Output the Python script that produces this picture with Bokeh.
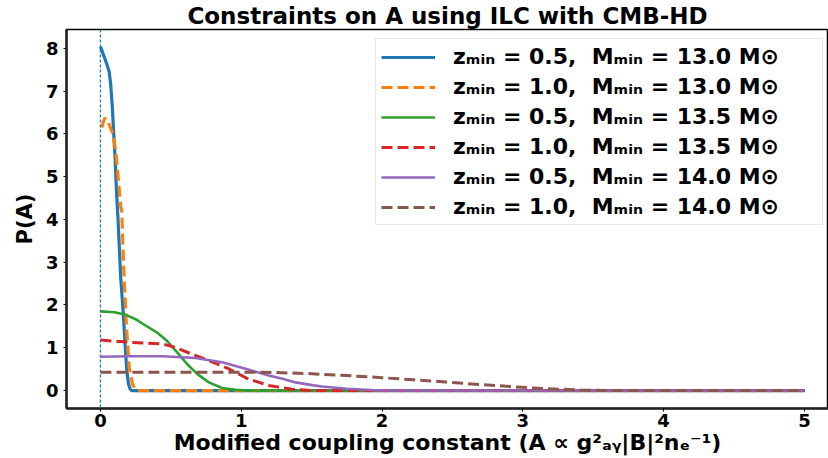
from bokeh.plotting import figure
from bokeh.models import Span, Legend, LegendItem, Range1d
from bokeh.embed import file_html
from bokeh.resources import INLINE

# ---- data ----
x_z05_m130 = [0.0, 0.026, 0.043, 0.062, 0.073, 0.085, 0.092, 0.104, 0.114, 0.125, 0.144, 0.161, 0.175, 0.187, 0.199, 0.21, 0.22, 0.3, 1.0, 2.0, 3.0, 4.0, 5.0]
y_z05_m130 = [8.04, 7.81, 7.65, 7.46, 7.15, 6.6, 6.14, 5.44, 4.66, 4.0, 2.64, 1.86, 1.09, 0.47, 0.16, 0.04, 0.0, 0.0, 0.0, 0.0, 0.0, 0.0, 0.0]

x_z10_m130 = [0.012, 0.02, 0.033, 0.057, 0.09, 0.109, 0.128, 0.144, 0.151, 0.168, 0.185, 0.204, 0.227, 0.245, 0.263, 0.4, 1.0, 2.0, 3.0, 4.0, 5.0]
y_z10_m130 = [6.15, 6.28, 6.37, 6.26, 5.98, 5.59, 4.9, 4.3, 4.2, 2.64, 1.48, 0.54, 0.16, 0.04, 0.0, 0.0, 0.0, 0.0, 0.0, 0.0, 0.0]

x_z05_m135 = [0.0, 0.1, 0.178, 0.249, 0.32, 0.40, 0.47, 0.545, 0.615, 0.687, 0.77, 0.864, 0.96, 1.05, 2.0, 3.0, 4.0, 5.0]
y_z05_m135 = [1.85, 1.83, 1.77, 1.67, 1.52, 1.36, 1.17, 0.89, 0.62, 0.39, 0.19, 0.06, 0.015, 0.0, 0.0, 0.0, 0.0, 0.0]

x_z10_m135 = [0.0, 0.2, 0.44, 0.53, 0.65, 0.77, 0.91, 1.05, 1.195, 1.36, 1.5, 2.0, 3.0, 4.0, 5.0]
y_z10_m135 = [1.18, 1.13, 1.09, 1.01, 0.85, 0.70, 0.51, 0.27, 0.12, 0.03, 0.0, 0.0, 0.0, 0.0, 0.0]

x_z05_m140 = [0.0, 0.2, 0.44, 0.675, 0.864, 1.03, 1.195, 1.30, 1.385, 1.515, 1.575, 1.75, 1.99, 3.0, 4.0, 5.0]
y_z05_m140 = [0.79, 0.80, 0.80, 0.76, 0.66, 0.51, 0.35, 0.27, 0.19, 0.12, 0.093, 0.04, 0.0, 0.0, 0.0, 0.0]

x_z10_m140 = [0.0, 0.5, 1.15, 1.45, 1.75, 2.0, 2.225, 2.45, 2.70, 2.95, 3.17, 3.41, 3.6, 4.0, 5.0]
y_z10_m140 = [0.43, 0.43, 0.43, 0.40, 0.35, 0.30, 0.25, 0.20, 0.14, 0.085, 0.04, 0.015, 0.0, 0.0, 0.0]

labels = [
    "zₘᵢₙ = 0.5,  Mₘᵢₙ = 13.0 M⊙",
    "zₘᵢₙ = 1.0,  Mₘᵢₙ = 13.0 M⊙",
    "zₘᵢₙ = 0.5,  Mₘᵢₙ = 13.5 M⊙",
    "zₘᵢₙ = 1.0,  Mₘᵢₙ = 13.5 M⊙",
    "zₘᵢₙ = 0.5,  Mₘᵢₙ = 14.0 M⊙",
    "zₘᵢₙ = 1.0,  Mₘᵢₙ = 14.0 M⊙",
]
x_ticks = [0, 1, 2, 3, 4, 5]
y_ticks = [0, 1, 2, 3, 4, 5, 6, 7, 8]

FONT = "DejaVu Sans"

p = figure(width=828, height=458, output_backend="svg", toolbar_location=None,
           x_range=Range1d(-0.241, 5.171), y_range=Range1d(-0.42, 8.44),
           min_border_left=66, min_border_right=0, min_border_top=28, min_border_bottom=50,
           title="Constraints on A using ILC with CMB-HD")
p.title.text_font = FONT
p.title.text_font_size = "23px"
p.title.text_font_style = "bold"
p.title.text_color = "black"
p.title.align = "center"
p.title.offset = -14
p.title.standoff = 1

p.grid.visible = False
p.outline_line_color = "black"
p.outline_line_width = 1.5
p.background_fill_color = "white"
p.border_fill_color = "white"

for ax in (p.xaxis[0], p.yaxis[0]):
    ax.axis_line_width = 2.5
    ax.axis_line_color = "#222222"
    ax.major_tick_line_width = 1
    ax.major_tick_out = 3
    ax.major_tick_in = 0
    ax.minor_tick_line_color = None
    ax.major_label_text_font = FONT
    ax.major_label_text_font_size = "18px"
    ax.major_label_text_font_style = "bold"
    ax.major_label_text_color = "black"
    ax.axis_label_text_font = FONT
    ax.axis_label_text_font_style = "bold"
    ax.axis_label_text_color = "black"

p.xaxis.ticker = x_ticks
p.yaxis.ticker = y_ticks
p.xaxis.major_label_standoff = 2
p.yaxis.major_label_standoff = 5
p.xaxis.axis_label = "Modified coupling constant (A ∝ g²ₐᵧ|B|²nₑ⁻¹)"
p.yaxis.axis_label = "P(A)"
p.xaxis.axis_label_text_font_size = "22px"
p.yaxis.axis_label_text_font_size = "21px"
p.xaxis.axis_label_standoff = 0
p.yaxis.axis_label_standoff = 6

p.add_layout(Span(location=0, dimension="height", line_color="#1f77b4",
                  line_width=1.3, line_dash="3 2"))

series = [
    (x_z05_m130, y_z05_m130, "#1f77b4", "solid", 3.2),
    (x_z10_m130, y_z10_m130, "#ff7f0e", "11 5", 3.2),
    (x_z05_m135, y_z05_m135, "#2ca02c", "solid", 2.6),
    (x_z10_m135, y_z10_m135, "#d62728", "11 5", 3.0),
    (x_z05_m140, y_z05_m140, "#9467bd", "solid", 2.6),
    (x_z10_m140, y_z10_m140, "#8c564b", "11 5", 3.0),
]
items = []
for (xs, ys, c, d, w), lab in zip(series, labels):
    r = p.line(xs, ys, line_color=c, line_dash=d, line_width=w)
    items.append(LegendItem(label=lab, renderers=[r]))

legend = Legend(items=items, location=(309, 183))
legend.label_text_font = FONT
legend.label_text_font_size = "22px"
legend.label_text_font_style = "bold"
legend.label_text_color = "black"
legend.glyph_width = 54
legend.glyph_height = 24
legend.label_height = 24
legend.label_width = 364
legend.label_standoff = 18
legend.spacing = 5
legend.padding = 5
legend.margin = 0
legend.border_line_color = "#d0d0d0"
legend.border_line_width = 1
legend.background_fill_alpha = 0.8
p.add_layout(legend)

open("out.html", "w").write(file_html(p, INLINE))
